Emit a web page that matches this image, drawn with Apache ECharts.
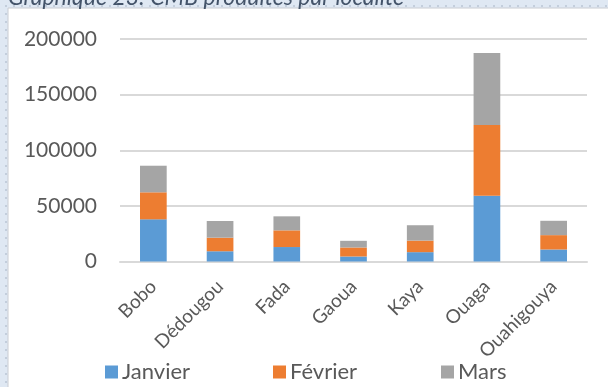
<!DOCTYPE html>
<html>
<head>
<meta charset="utf-8">
<script src="https://cdn.jsdelivr.net/npm/echarts@6/dist/echarts.min.js"></script>
<style>
  html, body { margin: 0; padding: 0; }
  body {
    width: 608px; height: 387px; overflow: hidden;
    background-color: #dfe8f3;
    background-image: radial-gradient(#c3cedc 1px, transparent 1.2px);
    background-size: 8px 8px;
    background-position: 2px 2px;
  }
  #chart { width: 608px; height: 387px; }
</style>
</head>
<body>
<div id="chart"></div>
<script>
// Localités et production mensuelle de CMB
const localites = ['Bobo', 'Dédougou', 'Fada', 'Gaoua', 'Kaya', 'Ouaga', 'Ouahigouya'];
const janvier = [37900, 9200, 13000, 4500, 8400, 59200, 10800];
const fevrier = [24300, 12200, 15000, 8100, 10400, 63500, 12900];
const mars    = [23900, 15000, 12600, 6000, 13800, 64700, 12900];
const mois    = ['Janvier', 'Février', 'Mars'];
const titre = 'Graphique 23: CMB produites par localité';

const FONT = 'Lato';
const TEXT = '#595959';
const COULEURS = ['#5b9bd5', '#ed7d31', '#a5a5a5'];

const chart = echarts.init(document.getElementById('chart'), null, { renderer: 'canvas' });

function serie(name, data, color) {
  return {
    name, type: 'bar', stack: 'total', data,
    barWidth: '40%',
    itemStyle: { color },
    emphasis: { disabled: true }
  };
}

// une légende par mois, espacées régulièrement
const legendes = mois.map((m, i) => ({
  data: [m],
  left: 100 + i * 168, top: 356,
  itemWidth: 13, itemHeight: 13,
  icon: 'rect',
  selectedMode: false,
  textStyle: { fontFamily: FONT, fontSize: 22, color: TEXT, padding: [0, 0, 0, -1] }
}));

chart.setOption({
  backgroundColor: 'transparent',
  animation: false,
  graphic: [
    {
      type: 'rect', z: -10, silent: true,
      shape: { x: 8, y: 8, width: 620, height: 400 },
      style: { fill: '#ffffff', stroke: '#c8ccd2', lineWidth: 1 }
    },
    {
      // titre du graphique, partiellement masqué par le bord supérieur
      type: 'text', z: 10, silent: true,
      x: 8, y: -14,
      style: {
        text: titre,
        font: 'italic 23px ' + FONT,
        fill: '#44546a',
        verticalAlign: 'top'
      }
    }
  ],
  grid: { left: 120, right: 21, top: 39, bottom: 125.5, containLabel: false },
  legend: legendes,
  xAxis: {
    type: 'category',
    data: localites,
    axisLine: { lineStyle: { color: '#d9d9d9', width: 2 } },
    axisTick: { show: false },
    axisLabel: {
      rotate: 45, interval: 0, margin: 22,
      fontFamily: FONT, fontSize: 19, color: TEXT
    }
  },
  yAxis: {
    type: 'value',
    min: 0, max: 200000, interval: 50000,
    axisLine: { show: false },
    axisTick: { show: false },
    splitLine: { lineStyle: { color: '#d9d9d9', width: 2 } },
    axisLabel: {
      fontFamily: FONT, fontSize: 21, color: TEXT, margin: 23,
      formatter: v => String(v)
    }
  },
  series: [
    serie(mois[0], janvier, COULEURS[0]),
    serie(mois[1], fevrier, COULEURS[1]),
    serie(mois[2], mars, COULEURS[2])
  ]
});
</script>
</body>
</html>
